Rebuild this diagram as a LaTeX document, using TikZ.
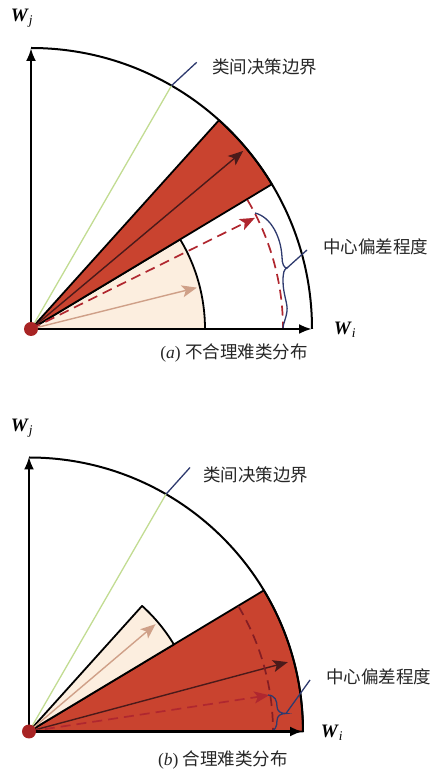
\documentclass[tikz,border=0pt]{standalone}
\usepackage{fontspec}
\setmainfont{Liberation Serif}
\newfontfamily\cjk{Noto Sans CJK SC}
\usetikzlibrary{arrows.meta,positioning}
\definecolor{hardred}{HTML}{C9432F}
\definecolor{easybeige}{HTML}{FCEEDF}
\definecolor{easyarrow}{HTML}{CFA088}
\definecolor{centerdark}{HTML}{4A1A1A}
\definecolor{biasred}{HTML}{B0272F}
\definecolor{boundgreen}{HTML}{C2DC92}
\definecolor{leaderblue}{HTML}{2E3A6E}
\definecolor{origindot}{HTML}{A82424}

\begin{document}
\begin{tikzpicture}[x=1pt, y=1pt,
  axis/.style={line width=2.6pt, -{Latex[length=13pt,width=10pt]}},
  rim/.style={line width=2pt},
  hard/.style={fill=hardred, draw=black, line width=1.8pt, line join=round},
  easy/.style={fill=easybeige, draw=black, line width=1.8pt, line join=round},
  vec/.style={line width=1.4pt, -{Stealth[length=15pt,width=12pt,inset=3.5pt]}},
  biasvec/.style={vec, biasred, line width=1.7pt, dash pattern=on 10pt off 6pt},
  biasarc/.style={line width=1.7pt, dash pattern=on 10pt off 6pt},
  bound/.style={boundgreen, line width=1.3pt},
  leader/.style={leaderblue, line width=1.3pt},
  dot/.style={circle, fill=origindot, minimum size=14pt, inner sep=0pt},
  cntext/.style={font=\fontsize{17.5}{20}\selectfont\cjk, text=black!85, inner sep=0pt},
  axlabel/.style={font=\fontsize{19}{20}\selectfont, inner sep=0pt},
  caption/.style={font=\fontsize{17.5}{20}\selectfont, text=black!85, inner sep=0pt}
]
\useasboundingbox (0,0) rectangle (435,774);

% (a) unreasonable hard-class distribution
\begin{scope}[shift={(31,445)}]
  \coordinate (oa) at (0,0);
  \coordinate (ia) at (281,0);
  \coordinate (ja) at (0,281);
  \filldraw[easy] (oa) -- (0:174) arc[start angle=0, end angle=31, radius=174] -- cycle;
  \filldraw[hard] (oa) -- (31:281) arc[start angle=31, end angle=48, radius=281] -- cycle;
  \draw[rim] (ia) arc[start angle=0, end angle=90, radius=281];

  \coordinate (ga) at (60:281);
  \coordinate (la) at (165.7,266.7);
  \draw[bound] (oa) -- (ga);
  \draw[leader] (ga) -- (la);
  \node[cntext, anchor=west] (bounda) at (181,262) {类间决策边界};

  \coordinate (ea) at (14:171);
  \coordinate (ca) at (40:277);
  \coordinate (da) at (26.4:250);
  \draw[vec, easyarrow] (oa) -- (ea);
  \draw[vec, centerdark] (oa) -- (ca);
  \draw[biasvec] (oa) -- (da);
  \draw[biasarc, biasred] (30.8:252) arc[start angle=30.8, end angle=0, radius=252];

  % brace
  \coordinate (bta) at (256,61);
  \coordinate (lba) at (276,79);
  \draw[leader] (224,116) .. controls (240,112) and (250,92) .. (251,72)
    .. controls (251,65) and (253,61) .. (bta)
    .. controls (253,60) and (252,56) .. (252,48)
    .. controls (252,35) and (257,25) .. (256,18)
    .. controls (255,10) and (252,5) .. (252,1);
  \draw[leader] (bta) -- (lba);
  \node[cntext, anchor=west] (deva) at (292,82) {中心偏差程度};

  \draw[axis] (oa) -- (ja);
  \draw[axis] (oa) -- (ia);
  \node[dot] (dota) at (oa) {};
  \node[axlabel] (wja) at (-9,311) {\textbf{\textit{W}}\textsubscript{\textit{j}}};
  \node[axlabel] (wia) at (314,-1) {\textbf{\textit{W}}\textsubscript{\textit{i}}};
  \node[caption] (capa) at (203,-24) {(\textit{a}) {\cjk 不合理难类分布}};
\end{scope}

% (b) reasonable hard-class distribution
\begin{scope}[shift={(29,42.5)}]
  \coordinate (ob) at (0,0);
  \coordinate (ib) at (274,0);
  \coordinate (jb) at (0,275);
  \filldraw[hard] (ob) -- (ib) arc[start angle=0, end angle=31, radius=274] -- cycle;
  \filldraw[easy] (ob) -- (31:169) arc[start angle=31, end angle=48, radius=169] -- cycle;
  \draw[rim] (ib) arc[start angle=0, end angle=90, radius=274];

  \coordinate (gb) at (60:274);
  \coordinate (lb) at (161,264);
  \draw[bound] (ob) -- (gb);
  \draw[leader] (gb) -- (lb);
  \node[cntext, anchor=west] (boundb) at (174,256.5) {类间决策边界};

  \coordinate (eb) at (40.3:166);
  \coordinate (cb) at (15:268);
  \coordinate (db) at (8.6:243);
  \draw[vec, easyarrow] (ob) -- (eb);
  \draw[vec, centerdark] (ob) -- (cb);
  \draw[biasvec] (ob) -- (db);
  \draw[biasarc, biasred!75!black] (30.9:244) arc[start angle=30.9, end angle=0, radius=244];

  % brace
  \coordinate (btb) at (257,18);
  \coordinate (lbb) at (281,51.5);
  \draw[leader] (239,36.5) .. controls (246,36) and (248,31) .. (248,25)
    .. controls (248,20) and (252,18) .. (btb)
    .. controls (252,18) and (248,16) .. (248,11)
    .. controls (248,5) and (246,1) .. (242,0);
  \draw[leader] (btb) -- (lbb);
  \node[cntext, anchor=west] (devb) at (297,55) {中心偏差程度};

  \draw[axis] (ob) -- (jb);
  \draw[axis] (ob) -- (ib);
  \node[dot] (dotb) at (ob) {};
  \node[axlabel] (wjb) at (-7,303.5) {\textbf{\textit{W}}\textsubscript{\textit{j}}};
  \node[axlabel] (wib) at (303,-1.5) {\textbf{\textit{W}}\textsubscript{\textit{i}}};
  \node[caption] (capb) at (194,-28.5) {(\textit{b}) {\cjk 合理难类分布}};
\end{scope}
\end{tikzpicture}
\end{document}
